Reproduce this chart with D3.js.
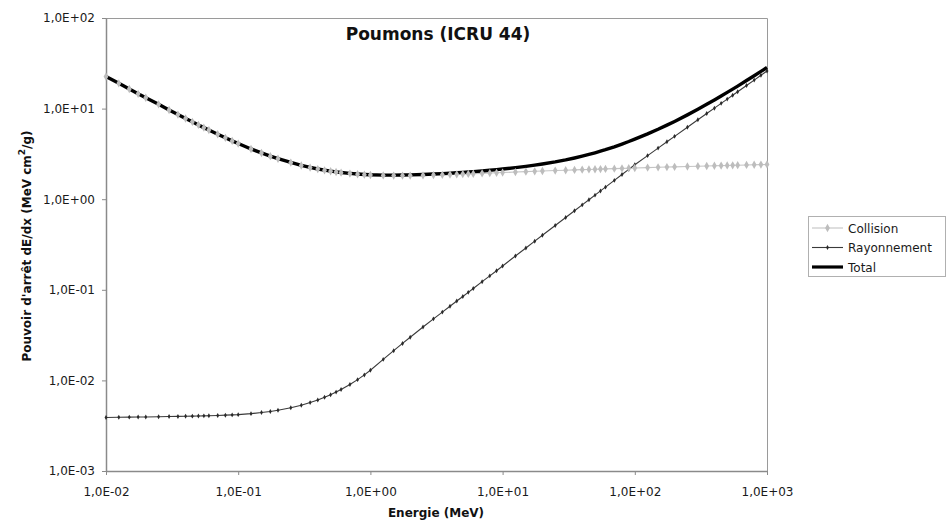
<!DOCTYPE html>
<html>
<head>
<meta charset="utf-8">
<script src="https://cdn.jsdelivr.net/npm/d3@7/dist/d3.min.js"></script>
<style>
  html, body { margin: 0; padding: 0; background: #fff; }
  svg { display: block; font-family: "DejaVu Sans", Verdana, sans-serif; }
</style>
</head>
<body>
<svg id="chart" width="947" height="522"></svg>
<script>
// Electron stopping powers, lung tissue (ICRU 44), MeV cm²/g
const energy = [
  0.01, 0.0125, 0.015, 0.0175, 0.02, 0.025, 0.03, 0.035, 0.04, 0.045, 0.05, 0.055, 0.06, 0.07, 0.08, 0.09,
  0.1, 0.125, 0.15, 0.175, 0.2, 0.25, 0.3, 0.35, 0.4, 0.45, 0.5, 0.55, 0.6, 0.7, 0.8, 0.9,
  1, 1.25, 1.5, 1.75, 2, 2.5, 3, 3.5, 4, 4.5, 5, 5.5, 6, 7, 8, 9,
  10, 12.5, 15, 17.5, 20, 25, 30, 35, 40, 45, 50, 55, 60, 70, 80, 90,
  100, 125, 150, 175, 200, 250, 300, 350, 400, 450, 500, 550, 600, 700, 800, 900,
  1000
];

const collision = [
  22.56, 18.99, 16.47, 14.57, 13.17, 11.14, 9.653, 8.583, 7.777, 7.142, 6.603, 6.164, 5.797, 5.207, 4.757, 4.402,
  4.115, 3.581, 3.238, 2.982, 2.793, 2.539, 2.355, 2.235, 2.148, 2.084, 2.034, 1.995, 1.963, 1.917, 1.886, 1.864,
  1.849, 1.829, 1.822, 1.821, 1.824, 1.834, 1.846, 1.858, 1.870, 1.882, 1.892, 1.902, 1.911, 1.928, 1.943, 1.956,
  1.968, 1.993, 2.014, 2.031, 2.046, 2.070, 2.089, 2.105, 2.118, 2.130, 2.141, 2.150, 2.159, 2.175, 2.188, 2.200,
  2.210, 2.232, 2.249, 2.264, 2.276, 2.297, 2.313, 2.327, 2.339, 2.349, 2.358, 2.367, 2.374, 2.388, 2.399, 2.409,
  2.418
];

const rayonnement = [
  0.003898, 0.003915, 0.003929, 0.003941, 0.003952, 0.003971, 0.003988, 0.004004, 0.004019, 0.004033, 0.004047, 0.004061, 0.004075, 0.004103, 0.004133, 0.004161,
  0.004190, 0.004298, 0.004415, 0.004543, 0.004681, 0.004985, 0.005323, 0.005689, 0.006085, 0.006507, 0.006953, 0.007426, 0.007927, 0.009002, 0.010192, 0.011496,
  0.01293, 0.01705, 0.02129, 0.02559, 0.02991, 0.03883, 0.04779, 0.05671, 0.06592, 0.07514, 0.08432, 0.09374, 0.1033, 0.1229, 0.1425, 0.1625,
  0.1832, 0.2358, 0.2894, 0.3440, 0.3995, 0.5126, 0.6284, 0.7462, 0.8655, 0.9875, 1.109, 1.234, 1.358, 1.613, 1.874, 2.132,
  2.399, 3.029, 3.663, 4.301, 4.940, 6.228, 7.520, 8.818, 10.11, 11.43, 12.73, 14.05, 15.35, 18.01, 20.64, 23.32,
  26.00
];

const total = [
  22.56, 18.99, 16.47, 14.57, 13.17, 11.14, 9.657, 8.587, 7.781, 7.146, 6.607, 6.168, 5.801, 5.211, 4.761, 4.406,
  4.119, 3.585, 3.242, 2.987, 2.798, 2.544, 2.360, 2.241, 2.154, 2.091, 2.041, 2.002, 1.971, 1.926, 1.896, 1.876,
  1.862, 1.846, 1.843, 1.847, 1.854, 1.873, 1.894, 1.915, 1.936, 1.957, 1.976, 1.996, 2.014, 2.051, 2.086, 2.119,
  2.151, 2.229, 2.303, 2.375, 2.446, 2.583, 2.717, 2.851, 2.984, 3.118, 3.250, 3.384, 3.517, 3.788, 4.062, 4.332,
  4.609, 5.261, 5.912, 6.565, 7.216, 8.525, 9.833, 11.15, 12.45, 13.78, 15.09, 16.42, 17.72, 20.40, 23.04, 25.73,
  28.42
];

const seriesNames = ["Collision", "Rayonnement", "Total"];

const xTickValues = [0.01, 0.1, 1, 10, 100, 1000];
const xTickLabels = ["1,0E-02", "1,0E-01", "1,0E+00", "1,0E+01", "1,0E+02", "1,0E+03"];
const yTickValues = [0.001, 0.01, 0.1, 1, 10, 100];
const yTickLabels = ["1,0E-03", "1,0E-02", "1,0E-01", "1,0E+00", "1,0E+01", "1,0E+02"];

const titleText = "Poumons (ICRU 44)";
const xTitle = "Energie (MeV)";

// ---- layout ----
const svg = d3.select("#chart");
const plot = { left: 106, right: 767, top: 18, bottom: 471 };

const x = d3.scaleLog().domain([0.01, 1000]).range([plot.left, plot.right]);
const y = d3.scaleLog().domain([0.001, 100]).range([plot.bottom, plot.top]);

const axisColor = "#8a8a8a";
const textColor = "#1a1a1a";

// plot frame (top and right edges)
svg.append("path")
  .attr("d", `M${plot.left},${plot.top + 0.5}H${plot.right + 0.5}V${plot.bottom}`)
  .attr("fill", "none")
  .attr("stroke", "#9a9a9a")
  .attr("stroke-width", 1);

// axes
const xAxis = d3.axisBottom(x)
  .tickValues(xTickValues)
  .tickFormat((d, i) => xTickLabels[i])
  .tickSizeInner(4).tickSizeOuter(0).tickPadding(12);
const yAxis = d3.axisLeft(y)
  .tickValues(yTickValues)
  .tickFormat((d, i) => yTickLabels[i])
  .tickSizeInner(4).tickSizeOuter(0).tickPadding(7);

const gx = svg.append("g").attr("transform", `translate(0,${plot.bottom})`).call(xAxis);
const gy = svg.append("g").attr("transform", `translate(${plot.left},0)`).call(yAxis);
[gx, gy].forEach(g => {
  g.select(".domain").attr("stroke", axisColor).attr("stroke-width", 1.5);
  g.selectAll(".tick line").attr("stroke", axisColor).attr("stroke-width", 1);
  g.selectAll(".tick text")
    .attr("fill", textColor)
    .style("font-family", "'DejaVu Sans', Verdana, sans-serif")
    .style("font-size", "12px");
});

// ---- series ----
const rows = energy.map((e, i) => ({ e, col: collision[i], ray: rayonnement[i], tot: total[i] }));
const line = key => d3.line().x(d => x(d.e)).y(d => y(d[key]))(rows);

const plotG = svg.append("g");

// Collision line (light grey, thin) sits under the total curve
plotG.append("path")
  .attr("d", line("col"))
  .attr("fill", "none")
  .attr("stroke", "#c4c4c4")
  .attr("stroke-width", 1.1);

// Total (thick black)
plotG.append("path")
  .attr("d", line("tot"))
  .attr("fill", "none")
  .attr("stroke", "#000")
  .attr("stroke-width", 3.4)
  .attr("stroke-linejoin", "round");

// Rayonnement (dark thin line, small markers)
plotG.append("path")
  .attr("d", line("ray"))
  .attr("fill", "none")
  .attr("stroke", "#3a3a3a")
  .attr("stroke-width", 1.1);
plotG.selectAll(".mray")
  .data(rows)
  .join("path")
  .attr("class", "mray")
  .attr("transform", d => `translate(${x(d.e)},${y(d.ray)})`)
  .attr("d", d3.symbol(d3.symbolDiamond, 7))
  .attr("fill", "#2a2a2a");

// Collision markers on top
plotG.selectAll(".mcol")
  .data(rows)
  .join("path")
  .attr("class", "mcol")
  .attr("transform", d => `translate(${x(d.e)},${y(d.col)})`)
  .attr("d", d3.symbol(d3.symbolDiamond, 20))
  .attr("fill", "#bdbdbd");

// ---- titles ----
svg.append("text")
  .attr("x", 438).attr("y", 40)
  .attr("text-anchor", "middle")
  .attr("font-weight", "bold")
  .attr("font-size", 17)
  .attr("fill", "#111")
  .text(titleText);

svg.append("text")
  .attr("x", 436).attr("y", 517)
  .attr("text-anchor", "middle")
  .attr("font-weight", "bold")
  .attr("font-size", 12)
  .attr("fill", "#111")
  .text(xTitle);

const yt = svg.append("text")
  .attr("transform", "translate(31,246) rotate(-90)")
  .attr("text-anchor", "middle")
  .attr("font-weight", "bold")
  .attr("font-size", 12)
  .attr("fill", "#111");
yt.append("tspan").text("Pouvoir d'arrêt dE/dx (MeV cm");
yt.append("tspan").attr("dy", -6).attr("font-size", 9).text("2");
yt.append("tspan").attr("dy", 6).text("/g)");

// ---- legend ----
const legend = svg.append("g").attr("transform", "translate(808,216)");
legend.append("rect")
  .attr("x", 0.5).attr("y", 0.5)
  .attr("width", 137).attr("height", 60)
  .attr("fill", "#fff")
  .attr("stroke", "#b0b0b0");

const legendStyles = [
  { stroke: "#c4c4c4", width: 1.1, marker: "#bdbdbd", msize: 20 },
  { stroke: "#3a3a3a", width: 1.1, marker: "#2a2a2a", msize: 7 },
  { stroke: "#000", width: 3.2, marker: null, msize: 0 }
];
seriesNames.forEach((name, i) => {
  const cy = 12 + i * 19.5;
  const st = legendStyles[i];
  legend.append("line")
    .attr("x1", 4).attr("x2", 35).attr("y1", cy).attr("y2", cy)
    .attr("stroke", st.stroke).attr("stroke-width", st.width);
  if (st.marker) {
    legend.append("path")
      .attr("transform", `translate(19.5,${cy})`)
      .attr("d", d3.symbol(d3.symbolDiamond, st.msize))
      .attr("fill", st.marker);
  }
  legend.append("text")
    .attr("x", 40).attr("y", cy + 4.5)
    .attr("font-size", 12)
    .attr("fill", textColor)
    .text(name);
});
</script>
</body>
</html>
